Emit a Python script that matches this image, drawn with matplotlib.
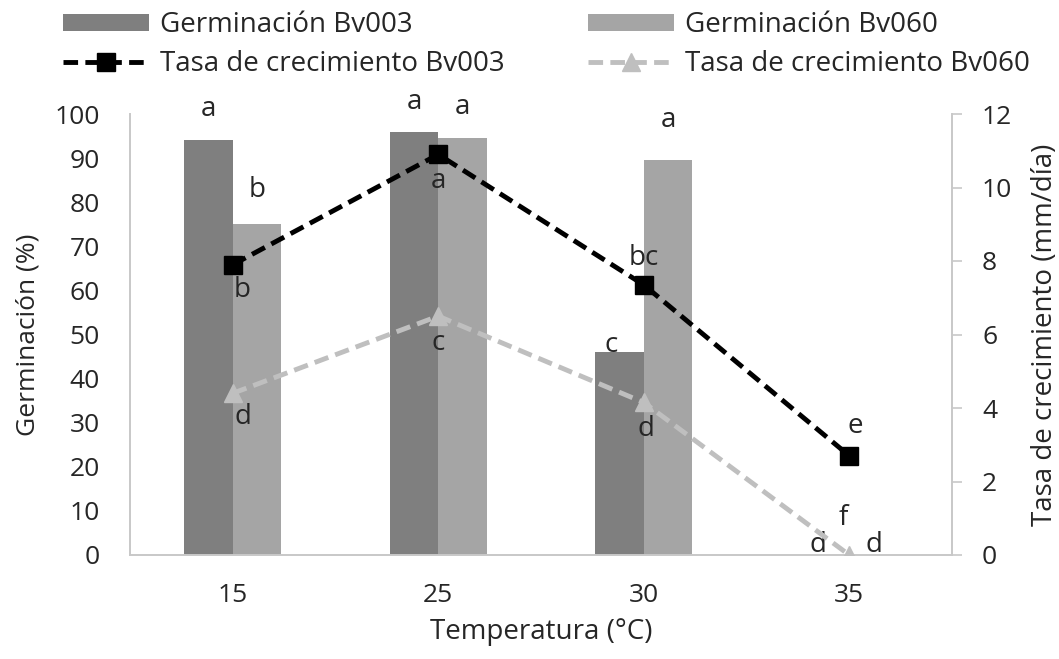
import matplotlib
matplotlib.use("Agg")
import matplotlib.pyplot as plt
import numpy as np

# ---- data ----
temperatures = ["15", "25", "30", "35"]
germ_bv003 = [94, 96, 46, 0]
germ_bv060 = [75, 94.5, 89.5, 0]
tasa_bv003 = [7.9, 10.9, 7.35, 2.7]
tasa_bv060 = [4.4, 6.5, 4.15, 0]
letters_germ_bv003 = ["a", "a", "c", "d"]
letters_germ_bv060 = ["b", "a", "a", "d"]
letters_tasa_bv003 = ["b", "a", "bc", "e"]
letters_tasa_bv060 = ["d", "c", "d", "f"]
left_ticks = list(range(0, 101, 10))
right_ticks = list(range(0, 13, 2))

# ---- style ----
FONT = "Open Sans"
FS = 20
TFS = 19
plt.rcParams['font.family'] = [FONT, 'DejaVu Sans']
C_DARK = "#7f7f7f"
C_MID = "#a5a5a5"
C_LIGHT = "#bfbfbf"
AX_C = "#c8c8c8"
TXT = "#262626"
DPI = 100
PX = 72.0 / DPI  # points per pixel
W, H = 1059, 659

fig = plt.figure(figsize=(W / DPI, H / DPI), dpi=DPI)
ax = fig.add_axes([130 / W, 1 - 555 / H, 822 / W, 441 / H])
ax2 = ax.twinx()

x = np.arange(len(temperatures))
bw = 0.236
b1 = ax.bar(x - bw / 2, germ_bv003, bw, color=C_DARK, label="Germinación Bv003", zorder=2)
b2 = ax.bar(x + bw / 2, germ_bv060, bw, color=C_MID, label="Germinación Bv060", zorder=2)

dash = (0, (3.0, 1.5))
l1, = ax2.plot(x, tasa_bv003, color="black", lw=3.5, ls=dash,
               marker="s", ms=12.5, mfc="black", mec="black",
               label="Tasa de crecimiento Bv003", zorder=3)
l2, = ax2.plot(x, tasa_bv060, color=C_LIGHT, lw=3.5, ls=dash,
               marker="^", ms=13, mfc=C_LIGHT, mec=C_LIGHT,
               label="Tasa de crecimiento Bv060", zorder=3)

ax.set_xlim(-0.5, 3.5)
ax.set_ylim(0, 100)
ax2.set_ylim(0, 12)
ax.set_yticks(left_ticks)
ax2.set_yticks(right_ticks)
ax.set_xticks(x)
ax.set_xticklabels(temperatures)

for a in (ax, ax2):
    for s in a.spines.values():
        s.set_visible(False)
ax.spines['left'].set_visible(True)
ax.spines['bottom'].set_visible(True)
ax2.spines['right'].set_visible(True)
for s in (ax.spines['left'], ax.spines['bottom'], ax2.spines['right']):
    s.set_color(AX_C)
    s.set_linewidth(1.4)

ax.tick_params(axis='y', length=0, pad=30 * PX, labelsize=TFS, labelcolor=TXT)
ax.tick_params(axis='x', length=0, pad=28 * PX, labelsize=TFS, labelcolor=TXT)
ax2.tick_params(axis='y', length=10 * PX, width=1.2, color=AX_C, pad=20 * PX,
                labelsize=TFS, labelcolor=TXT)

ax.set_ylabel("Germinación (%)", fontsize=FS - 1, color=TXT)
ax2.set_ylabel("Tasa de crecimiento (mm/día)", fontsize=FS, color=TXT)
ax.set_xlabel("Temperatura (°C)", fontsize=FS, color=TXT)
ax.yaxis.set_label_coords((28 - 130) / 822, 0.5)
ax2.yaxis.set_label_coords((1045 - 130) / 822, 0.5)
ax.xaxis.set_label_coords(0.5, (555 - 632) / 441)
ax.xaxis.label.set_va("center")
ax.yaxis.label.set_va("center")
ax2.yaxis.label.set_va("center")

# ---- letters (offsets in pixels: dx, dy) ----
off_g003 = [(0, 31), (0, 30), (-8, 7), (-7, 10)]
off_g060 = [(0, 34), (0, 31), (0, 40), (0, 10)]
off_t003 = [(9, -25), (0, -27), (0, 27), (6, 30)]
off_t060 = [(10, -24), (0, -27), (2, -27), (-6, 37)]


def put(axis, xs, ys, labels, offs):
    for xi, yi, lab, (dx, dy) in zip(xs, ys, labels, offs):
        axis.annotate(lab, (xi, yi), xytext=(dx * PX, dy * PX), textcoords="offset points",
                      ha="center", va="center", fontsize=FS, color=TXT, zorder=5,
                      annotation_clip=False)


put(ax, x - bw / 2, germ_bv003, letters_germ_bv003, off_g003)
put(ax, x + bw / 2, germ_bv060, letters_germ_bv060, off_g060)
put(ax2, x, tasa_bv003, letters_tasa_bv003, off_t003)
put(ax2, x, tasa_bv060, letters_tasa_bv060, off_t060)

# ---- legend: two columns placed separately ----
common = dict(loc="upper left", frameon=False, fontsize=FS, handlelength=3.1,
              handleheight=0.55, handletextpad=0.4, labelspacing=0.4,
              borderpad=0, borderaxespad=0)
leg1 = fig.legend([b1, l1], [b1.get_label(), l1.get_label()],
                  bbox_to_anchor=(63 / W, 1 - 11 / H), **common)
leg2 = fig.legend([b2, l2], [b2.get_label(), l2.get_label()],
                  bbox_to_anchor=(588 / W, 1 - 11 / H), **common)
for lg in (leg1, leg2):
    for t in lg.get_texts():
        t.set_color(TXT)

fig.savefig("out.png", dpi=DPI, facecolor="white")
